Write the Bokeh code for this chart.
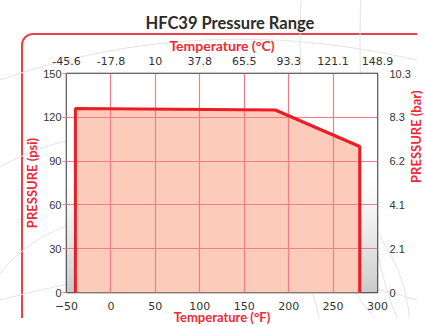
import numpy as np
from bokeh.plotting import figure
from bokeh.models import LinearAxis, Range1d, FixedTicker
from bokeh.embed import file_html
from bokeh.resources import INLINE

# Data (temperature in °F, pressure in psi)
temp_f = [-40, -40, 185, 280, 280]
press_psi = [0, 126, 125, 100, 0]

x_ticks = [-50, 0, 50, 100, 150, 200, 250, 300]
c_labels = ["-45.6", "-17.8", "10", "37.8", "65.5", "93.3", "121.1", "148.9"]
y_ticks = [0, 30, 60, 90, 120, 150]
bar_labels = ["0", "2.1", "4.1", "6.2", "8.3", "10.3"]

RED = "#EC1C24"
LABEL_RED = "#EE2A36"
GRID = "#EE7D88"
TXT = "#333333"

p = figure(frame_width=311, frame_height=219, output_backend="svg", toolbar_location=None,
           x_range=Range1d(-50, 300), y_range=Range1d(0, 150),
           min_border_left=66, min_border_right=50, min_border_top=73, min_border_bottom=33,
           title="HFC39 Pressure Range")
p.title.align = "left"
p.title.offset = 79
p.title.text_font = "Lato"
p.title.text_font_size = "16.5px"
p.title.text_font_style = "bold"
p.title.text_color = "#2B2B2B"
p.title.standoff = 2
p.background_fill_color = "white"
p.border_fill_color = None
p.outline_line_color = "#333333"
p.outline_line_width = 1.5

# decorative rounded red panel (with faint background curves) behind the chart
svg_bg = ("url(\"data:image/svg+xml;utf8,<svg xmlns='http://www.w3.org/2000/svg' "
          "width='417' height='318'>"
          "<rect x='22' y='34' width='520' height='420' rx='11' "
          "fill='white' stroke='%23EE4049' stroke-width='2'/>"
          "<g fill='none' stroke='%23E4E4E4' stroke-width='1'>"
          "<ellipse cx='150' cy='330' rx='170' ry='120'/>"
          "<ellipse cx='150' cy='330' rx='260' ry='200'/>"
          "<ellipse cx='420' cy='40' rx='120' ry='300'/>"
          "<ellipse cx='420' cy='40' rx='60' ry='300'/>"
          "<path d='M0 80 Q200 10 417 60'/>"
          "<path d='M0 300 Q220 240 417 300'/>"
          "</g></svg>\")")
p.styles = {"background-image": svg_bg, "background-repeat": "no-repeat"}

# gradient background (decorative)
n = 200
t = np.linspace(0, 1, n)
g = 255 - 52 * np.clip((0.55 - t) / 0.55, 0, 1) ** 1.4
img = np.zeros((n, 2), dtype=np.uint32)
view = img.view(dtype=np.uint8).reshape((n, 2, 4))
view[:, :, 0] = g[:, None].astype(np.uint8)
view[:, :, 1] = g[:, None].astype(np.uint8)
view[:, :, 2] = g[:, None].astype(np.uint8)
view[:, :, 3] = 255
bg = p.image_rgba(image=[img], x=-50, y=0, dw=350, dh=150)
bg.level = "image"

fill = p.patch(temp_f, press_psi, fill_color="#FCCBBA", line_color=None)
fill.level = "underlay"
edge = p.line(temp_f, press_psi, line_color=RED, line_width=3)
edge.level = "annotation"

for gr in p.grid:
    gr.grid_line_color = GRID
    gr.grid_line_width = 1.2
    gr.level = "glyph"
p.xgrid.ticker = FixedTicker(ticks=x_ticks)
p.ygrid.ticker = FixedTicker(ticks=y_ticks)

def style(ax, label, size, tick_font):
    ax.axis_line_color = None
    ax.major_tick_line_color = None
    ax.minor_tick_line_color = None
    ax.major_label_text_font = tick_font
    ax.major_label_text_font_size = "11px"
    ax.major_label_text_color = TXT
    ax.axis_label = label
    ax.axis_label_text_font = "Lato"
    ax.axis_label_text_font_style = "bold"
    ax.axis_label_text_font_size = size
    ax.axis_label_text_color = LABEL_RED

xb = p.xaxis[0]
xb.ticker = FixedTicker(ticks=x_ticks)
style(xb, "Temperature (°F)", "13px", "DejaVu Sans")
xb.major_label_standoff = 3
xb.axis_label_standoff = -4

yl = p.yaxis[0]
yl.ticker = FixedTicker(ticks=y_ticks)
style(yl, "PRESSURE (psi)", "13px", "Liberation Sans")
yl.major_tick_line_color = GRID
yl.major_tick_line_width = 1.2
yl.major_tick_out = 4
yl.major_tick_in = 0
yl.major_label_standoff = 1
yl.axis_label_standoff = 0

xt = LinearAxis(ticker=FixedTicker(ticks=x_ticks),
                major_label_overrides={t_: l for t_, l in zip(x_ticks, c_labels)})
style(xt, "Temperature (°C)", "14px", "DejaVu Sans")
xt.major_label_standoff = 3
xt.axis_label_standoff = 0
p.add_layout(xt, "above")

yr = LinearAxis(ticker=FixedTicker(ticks=y_ticks),
                major_label_overrides={t_: l for t_, l in zip(y_ticks, bar_labels)})
style(yr, "PRESSURE (bar)", "13px", "Liberation Sans")
yr.major_label_standoff = 6
yr.axis_label_standoff = 2
try:
    yr.axis_label_orientation = float(np.pi / 2)
except Exception:
    pass
p.add_layout(yr, "right")

open("out.html", "w").write(file_html(p, INLINE))
